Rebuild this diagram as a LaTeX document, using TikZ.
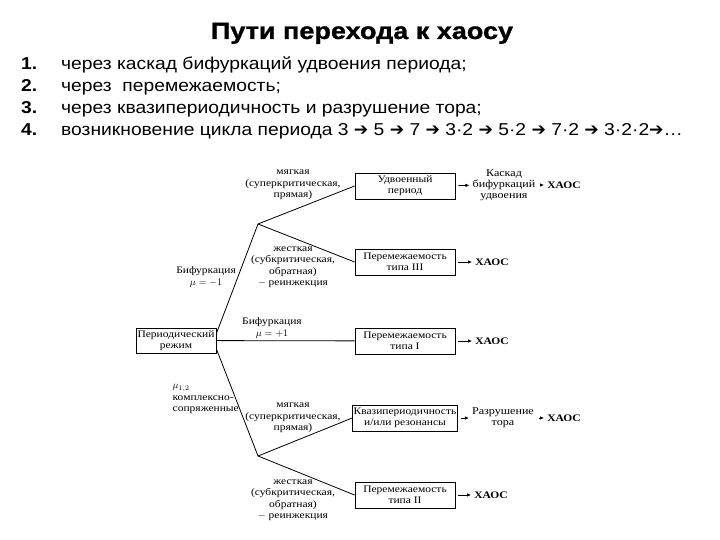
\documentclass[tikz,border=0pt]{standalone}
\usepackage{fontspec}
\setmainfont{Liberation Serif}
\newfontfamily\headfont[FakeStretch=1.12]{Liberation Sans}
\newfontfamily\titlefont[FakeStretch=1.15,FakeBold=1.2]{Liberation Sans Bold}
\newfontfamily\diagfont[FakeStretch=1.15]{Liberation Serif}
\newfontfamily\arrowfont{DejaVu Sans}
\usetikzlibrary{positioning,arrows.meta}

\newcommand{\nx}{ {\arrowfont ➔} }
\newcommand{\itemno}[1]{\makebox[40pt][l]{\bfseries #1}}

\begin{document}
\begin{tikzpicture}[
    x=1pt, y=-1pt,
    box/.style={draw, line width=0.9pt, align=center, minimum width=100pt, minimum height=26pt,
      inner sep=1pt, font=\diagfont\fontsize{10}{11}\selectfont},
    lbl/.style={align=center, inner sep=1pt, font=\diagfont\fontsize{10}{11.5}\selectfont},
    res/.style={align=center, inner sep=2pt, font=\diagfont\fontsize{10.5}{11}\selectfont},
    chaos/.style={inner sep=2pt, font=\diagfont\bfseries\fontsize{10}{11}\selectfont},
    line/.style={line width=0.8pt},
    arr/.style={-{Latex[length=4pt,width=3.5pt]}, line width=0.8pt, shorten <=3pt, shorten >=1pt}
  ]
    \useasboundingbox (0,0) rectangle (720,540);

    % header
    \node[anchor=base, font=\titlefont\fontsize{23.5}{26}\selectfont] (title) at (362,39) {Пути перехода к хаосу};
    \node[anchor=north west, align=left, inner sep=0pt,
      font=\headfont\fontsize{17.2}{22}\selectfont] (items) at (21,57)
      {\itemno{1.}через каскад бифуркаций удвоения периода;\\
       \itemno{2.}через\ \ перемежаемость;\\
       \itemno{3.}через квазипериодичность и разрушение тора;\\
       \itemno{4.}возникновение цикла периода 3\nx 5\nx 7\nx 3·2\nx 5·2\nx 7·2\nx 3·2·2{\arrowfont ➔}…};

    % boxes
    \node[box, minimum width=80pt, minimum height=25pt] (per) at (176,340.5) {Периодический\\режим};
    \node[box] (ud) at (405,186) {Удвоенный\\период};
    \node[box] (p3) at (405,262) {Перемежаемость\\типа III};
    \node[box] (p1) at (405,341) {Перемежаемость\\типа I};
    \node[box] (kv) at (405,418) {Квазипериодичность\\и/или резонансы};
    \node[box] (p2) at (405,495) {Перемежаемость\\типа II};

    % results
    \node[res] (kas) at (504,185) {Каскад\\бифуркаций\\удвоения};
    \node[chaos] (ch1) at (564,185) {ХАОС};
    \node[chaos] (ch3) at (492,262) {ХАОС};
    \node[chaos] (ch2) at (492,341) {ХАОС};
    \node[res] (raz) at (503,418) {Разрушение\\тора};
    \node[chaos] (ch4) at (564,418) {ХАОС};
    \node[chaos] (ch5) at (491,495) {ХАОС};

    % branch labels
    \node[lbl] (soft1) at (293,185) {мягкая\\(суперкритическая,\\прямая)};
    \node[lbl] (hard1) at (293,267) {жесткая\\(субкритическая,\\обратная)\\$-$ реинжекция};
    \node[lbl, anchor=east] (bm1) at (237,277) {Бифуркация\\$\mu=-1$};
    \node[lbl] (bp1) at (272,328) {Бифуркация\\$\mu=+1$};
    \node[lbl, align=left, anchor=east] (cc) at (240,399) {$\mu_{1,2}$\\комплексно-\\сопряженные};
    \node[lbl] (soft2) at (293,418) {мягкая\\(суперкритическая,\\прямая)};
    \node[lbl] (hard2) at (293,500) {жесткая\\(субкритическая,\\обратная)\\$-$ реинжекция};

    % forks
    \coordinate (fu) at (258,224);
    \coordinate (fl) at (258,456);

    \draw[line] (per.10) -- (fu) -- (ud.west);
    \draw[line] (fu) -- (p3.west);
    \draw[line] (per) -- (p1);
    \draw[line] (per.-12) -- (fl) -- (kv.west);
    \draw[line] (fl) -- (p2.west);

    \draw[arr] (ud) -- (kas);
    \draw[arr] (kas) -- (ch1);
    \draw[arr] (p3) -- (ch3);
    \draw[arr] (p1) -- (ch2);
    \draw[arr] (kv) -- (raz);
    \draw[arr] (raz) -- (ch4);
    \draw[arr] (p2) -- (ch5);
  \end{tikzpicture}
\end{document}
